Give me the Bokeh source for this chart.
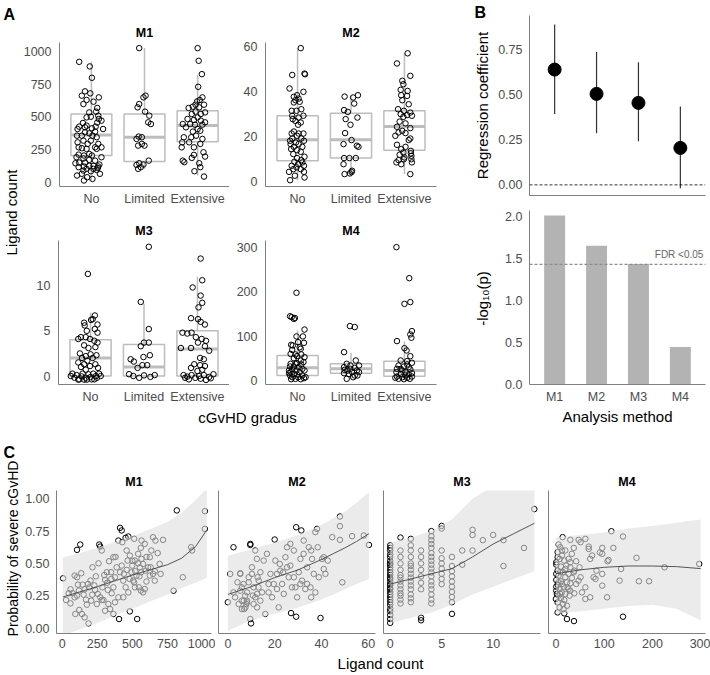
import math
from bokeh.plotting import figure
from bokeh.layouts import row, column
from bokeh.models import Range1d, FixedTicker, Label, Span, NumeralTickFormatter
from bokeh.embed import file_html
from bokeh.resources import INLINE

FONT = "Liberation Sans"
TICK_COL = "#4d4d4d"
AXIS_COL = "#7f7f7f"
BOX_COL = "#bdbdbd"

# ---------------- data ----------------
A_GROUPS = ["No", "Limited", "Extensive"]
METHODS = ["M1", "M2", "M3", "M4"]

# box statistics per group: (whisker low, q1, median, q3, whisker high)
A_M1_BOX = [(13, 204, 361, 522, 921), (102, 158, 344, 522, 1026), (51, 310, 433, 547, 822)]
A_M2_BOX = [(0.7, 9.3, 18.6, 29.3, 59.3), (3.7, 10.5, 18.6, 30.4, 38.1), (3.4, 14.0, 24.5, 31.5, 57.0)]
A_M3_BOX = [(0, 0, 2, 4, 7), (0, 0, 1, 3.5, 8), (0, 0, 3, 5, 11)]
A_M4_BOX = [(2, 11.3, 28.6, 56.5, 113), (4, 16.6, 26.4, 37.7, 62.5), (3, 9.8, 22.6, 43.7, 88.2)]

# jittered points: (horizontal jitter in group units, ligand count)
A_M1_NO = [(-0.23, 921), (-0.03, 886), (0.01, 799), (-0.12, 695), (-0.02, 680), (-0.18, 662), (0.14, 649),
           (-0.09, 629), (-0.15, 598), (0.04, 616), (0.11, 568), (-0.04, 534), (0.09, 540), (0.13, 509),
           (-0.09, 496), (-0.01, 501), (0.14, 484), (-0.16, 453), (0.11, 456), (-0.09, 433), (0.08, 425),
           (-0.23, 425), (-0.12, 420), (-0.26, 407), (0.01, 412), (0.07, 387), (-0.12, 382), (-0.04, 374),
           (-0.27, 356), (-0.18, 356), (0.02, 356), (0.10, 344), (-0.15, 318), (-0.26, 305), (-0.01, 318),
           (0.13, 293), (-0.07, 293), (0.07, 267), (-0.18, 260), (0.10, 255), (-0.24, 267), (-0.09, 255),
           (-0.04, 216), (-0.24, 211), (-0.14, 204), (-0.28, 191), (0.01, 204), (-0.15, 181), (-0.04, 171),
           (-0.23, 150), (-0.12, 150), (-0.30, 145), (0.07, 165), (-0.04, 125), (-0.14, 120), (0.04, 125),
           (0.13, 120), (-0.24, 115), (0.15, 135), (-0.09, 102), (-0.15, 89), (0.04, 102), (0.10, 94),
           (-0.01, 84), (0.12, 109), (-0.18, 64), (-0.27, 51), (-0.08, 38), (0.02, 25), (-0.14, 13),
           (0.19, 471), (0.22, 407), (0.19, 267), (0.19, 191), (0.16, 64)]
A_M1_LIM = [(-0.10, 1026), (0.02, 662), (-0.02, 649), (-0.10, 598), (-0.13, 573), (0.01, 540), (0.09, 509),
            (0.07, 458), (0.12, 445), (-0.11, 349), (-0.05, 344), (-0.15, 331), (-0.05, 293), (0.00, 280),
            (-0.12, 280), (0.08, 165), (-0.10, 145), (-0.15, 132), (-0.02, 135), (-0.07, 115), (-0.12, 102)]
A_M1_EXT = [(0.00, 1026), (0.02, 929), (0.08, 827), (0.01, 730), (0.09, 649), (-0.01, 618), (0.04, 629),
            (0.12, 593), (-0.04, 593), (-0.09, 578), (-0.17, 568), (0.03, 573), (0.14, 534), (-0.04, 540),
            (-0.11, 522), (0.06, 522), (0.00, 496), (-0.19, 484), (-0.07, 476), (0.06, 471), (0.14, 458),
            (-0.28, 445), (-0.14, 445), (-0.05, 440), (0.09, 440), (-0.22, 420), (0.00, 407), (-0.09, 387),
            (0.05, 394), (-0.03, 356), (-0.12, 344), (-0.26, 344), (0.09, 331), (-0.16, 305), (-0.29, 305),
            (0.05, 293), (-0.07, 267), (-0.30, 267), (0.11, 229), (0.14, 196), (-0.07, 209), (-0.11, 186),
            (-0.28, 165), (-0.25, 153), (0.03, 145), (0.05, 115), (-0.06, 84), (0.12, 43)]

A_M2_NO = [(0.06, 59.3), (-0.10, 47.4), (0.13, 48.0), (0.14, 47.7), (-0.15, 41.4), (0.11, 39.9), (-0.01, 38.4),
           (-0.07, 37.7), (0.02, 36.9), (-0.04, 36.2), (0.04, 35.5), (-0.07, 35.2), (-0.11, 31.5), (-0.02, 31.5),
           (0.07, 32.2), (-0.10, 29.3), (0.11, 29.3), (0.02, 28.5), (-0.09, 27.8), (-0.04, 27.0), (0.06, 26.3),
           (0.01, 25.3), (-0.07, 22.3), (-0.11, 21.4), (0.02, 21.4), (0.11, 21.4), (-0.01, 20.4), (-0.10, 19.2),
           (0.07, 19.2), (0.12, 18.2), (-0.14, 18.2), (-0.03, 17.4), (-0.13, 16.7), (0.02, 16.7), (-0.07, 15.5),
           (0.09, 15.5), (-0.12, 14.5), (-0.01, 14.0), (0.06, 13.3), (-0.08, 12.3), (0.13, 11.1), (-0.01, 10.5),
           (0.07, 9.6), (-0.06, 8.9), (0.09, 8.6), (0.01, 7.8), (-0.11, 7.1), (0.12, 7.1), (-0.02, 6.4),
           (0.06, 5.6), (-0.08, 5.6), (-0.16, 4.4), (0.12, 4.4), (-0.05, 2.7), (0.13, 1.9), (-0.14, 0.7)]
A_M2_LIM = [(-0.12, 37.8), (0.04, 37.4), (0.13, 38.4), (0.06, 34.7), (-0.13, 31.8), (-0.06, 31.0), (0.12, 28.5),
            (-0.10, 27.8), (-0.01, 25.3), (-0.11, 21.6), (0.01, 18.5), (-0.14, 16.7), (0.11, 16.0), (0.14, 15.5),
            (-0.13, 10.5), (-0.03, 10.5), (0.09, 10.5), (-0.14, 7.8), (0.02, 4.9), (-0.12, 3.4), (0.01, 4.3),
            (-0.02, 3.7)]
A_M2_EXT = [(0.06, 57.0), (-0.14, 52.5), (0.11, 47.0), (-0.04, 44.8), (-0.02, 43.3), (-0.07, 40.8), (0.06, 40.3),
            (-0.06, 38.4), (0.05, 38.1), (-0.04, 36.2), (0.08, 34.4), (-0.12, 32.2), (-0.01, 31.5), (0.11, 30.7),
            (-0.07, 30.0), (0.05, 29.6), (-0.02, 28.8), (0.14, 29.3), (-0.09, 26.7), (0.02, 25.9), (-0.14, 24.4),
            (0.11, 23.8), (-0.04, 22.6), (-0.11, 21.9), (0.02, 21.6), (-0.17, 20.4), (0.11, 19.2), (0.08, 18.5),
            (-0.14, 16.4), (0.02, 15.5), (-0.06, 14.5), (0.12, 13.7), (-0.02, 13.0), (0.12, 12.6), (-0.09, 12.0),
            (0.13, 11.5), (0.00, 10.8), (-0.01, 10.0), (0.13, 10.0), (-0.11, 9.6), (0.14, 8.6), (-0.15, 8.6),
            (-0.06, 7.8), (0.11, 3.4)]

A_M3_NO = [(-0.05, 11.3), (0.08, 6.7), (0.04, 6.3), (0.01, 6.2), (-0.12, 5.9), (-0.11, 5.6), (0.13, 5.7),
           (-0.07, 5.0), (0.08, 5.2), (0.13, 4.8), (-0.18, 4.3), (-0.09, 4.3), (-0.23, 4.1), (-0.01, 4.1),
           (0.07, 3.9), (0.13, 3.7), (-0.12, 3.4), (-0.04, 3.1), (0.09, 3.2), (-0.20, 2.5), (0.00, 2.4),
           (-0.09, 2.2), (0.11, 2.3), (-0.16, 2.0), (0.04, 2.0), (-0.06, 1.7), (-0.23, 1.5), (-0.12, 1.3),
           (0.09, 1.3), (-0.01, 1.1), (-0.18, 1.0), (0.14, 0.9), (-0.09, 0.7), (-0.34, 0.26), (-0.26, 0.1),
           (-0.17, -0.04), (-0.09, -0.19), (-0.04, 0.19), (0.02, -0.37), (0.10, 0.0), (0.16, 0.26), (-0.21, -0.37),
           (-0.30, -0.19), (-0.12, -0.4), (0.07, -0.37), (0.12, -0.19), (0.00, -0.11), (-0.37, 0.0), (0.19, 0.0),
           (-0.15, 0.26), (0.05, 0.26), (-0.23, -0.4), (-0.07, -0.4)]
A_M3_LIM = [(0.09, 14.3), (-0.06, 8.2), (0.09, 5.2), (0.00, 3.7), (0.09, 3.7), (-0.06, 3.3), (0.11, 2.3),
            (-0.01, 2.1), (-0.25, 1.85), (-0.19, 1.6), (-0.03, 1.2), (0.06, 1.2), (-0.12, 0.9), (-0.28, 0.2),
            (-0.20, 0.0), (-0.09, -0.2), (0.00, 0.07), (0.12, -0.1), (0.20, 0.1)]
A_M3_EXT = [(0.06, 13.0), (0.09, 10.6), (-0.09, 9.8), (0.06, 8.9), (0.09, 8.1), (0.02, 7.6), (-0.12, 6.4),
            (0.01, 6.3), (0.06, 6.0), (0.14, 5.7), (-0.11, 4.8), (-0.28, 4.8), (-0.19, 4.7), (-0.03, 4.3),
            (0.08, 4.1), (0.16, 3.9), (0.01, 3.7), (0.14, 3.3), (-0.12, 3.1), (-0.31, 3.1), (0.22, 2.8),
            (0.05, 2.0), (0.12, 1.85), (-0.06, 1.3), (0.05, 1.2), (0.14, 1.1), (-0.12, 0.9), (0.09, 0.7),
            (0.00, 0.55), (-0.26, 0.1), (-0.19, -0.07), (-0.11, 0.1), (-0.04, -0.2), (0.03, 0.0), (0.12, 0.1),
            (0.22, -0.1), (0.30, 0.2), (-0.16, -0.37), (0.06, -0.3), (0.16, -0.44), (-0.23, -0.2), (0.25, -0.26)]

A_M4_NO = [(-0.02, 198), (-0.14, 145), (-0.11, 143), (-0.07, 139), (-0.05, 141), (0.13, 115), (-0.02, 99.5),
           (0.10, 99.5), (0.01, 86.7), (0.12, 85), (-0.12, 80.6), (-0.09, 79), (0.04, 75), (-0.10, 69),
           (0.06, 71.6), (-0.13, 60), (-0.04, 58.8), (-0.01, 55), (0.07, 58.8), (0.13, 52.8), (-0.07, 50.5),
           (0.06, 45), (0.11, 41.5), (-0.13, 37.7), (-0.04, 37.7), (-0.14, 31.6), (0.02, 30), (0.09, 26.4),
           (-0.10, 24.9), (-0.02, 22.6), (0.13, 22.6), (-0.13, 18.8), (0.04, 18.8), (-0.07, 15), (-0.01, 13.6),
           (0.09, 11.3), (-0.14, 11.3), (-0.10, 7.5), (0.01, 7.5), (0.12, 5.3), (-0.04, 3.8), (0.06, 3),
           (0.15, 7.5), (-0.12, 3), (-0.16, 22.6), (-0.16, 16.6), (-0.07, 31.6), (0.07, 36.2), (-0.01, 39.2)]
A_M4_LIM = [(-0.02, 122.8), (0.07, 120.6), (-0.13, 64), (-0.08, 37.7), (0.09, 45.2), (0.15, 33.9), (-0.01, 33.9),
            (-0.13, 30.1), (0.07, 28.6), (-0.07, 22.6), (0.02, 18.8), (0.11, 22.6), (-0.13, 16.6), (-0.04, 15),
            (0.07, 11.3), (-0.08, 3.8), (0.04, 7.5), (0.12, 11.3), (-0.12, 24.1), (0.15, 18.8), (-0.01, 26.4)]
A_M4_EXT = [(-0.15, 301), (0.09, 231), (0.00, 173), (0.11, 177), (0.14, 111.5), (0.11, 104), (0.13, 96.5),
            (-0.14, 89), (0.00, 73), (0.04, 67.8), (0.11, 55), (-0.07, 45.2), (0.05, 43.7), (0.14, 40),
            (-0.11, 33.9), (-0.01, 31.6), (0.08, 30.1), (-0.14, 26.4), (-0.04, 22.6), (0.11, 24.9), (-0.15, 18.8),
            (0.02, 18.8), (-0.07, 15), (0.08, 13.6), (0.14, 16.6), (-0.14, 9), (-0.04, 7.5), (0.05, 6),
            (0.14, 9), (-0.11, 3.8), (-0.01, 3), (0.10, 3.8), (-0.17, 6), (0.02, 11.3), (-0.07, 26.4), (0.05, 36.2)]

# panel B
B_COEF = [0.64, 0.505, 0.455, 0.205]
B_CI_LO = [0.394, 0.287, 0.242, -0.019]
B_CI_HI = [0.89, 0.737, 0.681, 0.435]
B_NEGLOGP = [2.01, 1.65, 1.435, 0.447]
B_FDR = 1.43

# panel C: (ligand count, probability of severe cGvHD)
C_M1 = [(7, .385), (28, .217), (47, .269), (59, .191), (89, .406), (106, .393), (136, .424), (113, .336),
        (146, .336), (184, .341), (193, .315), (153, .258), (106, .251), (89, .238), (94, .109), (122, .14),
        (141, .109), (160, .083), (188, .036), (176, .181), (207, .212), (214, .258), (202, .367), (216, .47),
        (259, .501), (271, .63), (264, .646), (282, .6), (235, .295), (254, .264), (271, .238), (287, .315),
        (306, .372), (318, .432), (294, .217), (329, .186), (353, .269), (365, .315), (376, .393), (388, .47),
        (365, .548), (334, .517), (400, .677), (428, .664), (452, .698), (471, .708), (513, .69), (459, .6),
        (482, .561), (412, .432), (435, .367), (452, .315), (471, .276), (494, .432), (506, .367), (529, .406),
        (518, .522), (541, .574), (565, .535), (576, .496), (553, .47), (546, .315), (576, .276), (588, .302),
        (612, .47), (624, .548), (635, .6), (647, .703), (664, .677), (694, .496), (701, .419), (718, .682),
        (659, .367), (400, .238), (376, .199), (306, .134), (282, .217), (247, .186), (435, .238), (513, .354),
        (565, .677), (588, .651), (518, .315), (859, .393), (918, .625), (925, .6), (793, .289), (624, .406),
        (647, .419), (365, .109), (341, .147), (325, .295), (348, .432), (424, .483), (466, .522), (499, .483),
        (541, .501), (562, .432), (593, .444), (106, .605), (129, .646), (412, .775), (424, .755), (405, .07),
        (482, .129), (534, .07), (816, .91), (1016, .904), (1016, .767), (60, .3), (75, .27), (120, .29),
        (160, .3), (170, .22), (230, .33), (240, .4), (300, .41), (320, .35), (350, .38), (380, .55), (440, .42),
        (460, .45), (480, .38), (500, .52), (520, .44), (550, .4), (560, .62), (600, .55), (630, .47),
        (660, .44), (680, .58), (560, .29), (600, .36)]
C_M1_BAND_X = [5, 125, 250, 375, 500, 625, 750, 850, 950, 1030]
C_M1_FIT = [0.24, 0.28, 0.32, 0.365, 0.41, 0.45, 0.49, 0.54, 0.63, 0.76]
C_M1_LO = [-0.06, -0.01, 0.04, 0.095, 0.15, 0.205, 0.26, 0.31, 0.35, 0.39]
C_M1_HI = [0.545, 0.58, 0.62, 0.665, 0.71, 0.765, 0.82, 0.89, 0.99, 1.08]

C_M2 = [(0, .2), (1, .419), (2.4, .625), (3.1, .238), (4.1, .354), (5.3, .424), (6.0, .315), (6.8, .212),
        (7.5, .16), (8.2, .276), (8.9, .354), (9.6, .651), (9.6, .07), (9.9, .036), (10.3, .419), (10.7, .251),
        (11.7, .6), (12.4, .535), (13.1, .315), (12.7, .393), (11.0, .186), (8.2, .212), (4.6, .186), (6.0, .147),
        (2.4, .276), (5.3, .419), (6.7, .341), (7.4, .251), (8.2, .199), (9.6, .643), (10.3, .47), (11.0, .315),
        (11.7, .238), (12.5, .16), (13.2, .367), (13.9, .432), (14.6, .276), (15.3, .522), (16.0, .109),
        (16.7, .574), (17.4, .341), (18.2, .419), (18.9, .238), (20.0, .685), (20.3, .522), (21.0, .302),
        (21.7, .16), (22.4, .444), (23.2, .341), (23.9, .264), (24.6, .548), (25.3, .625), (26.0, .393),
        (26.7, .483), (27.0, .116), (27.4, .315), (28.2, .6), (29.2, .78), (29.2, .088), (29.6, .238),
        (30.3, .432), (31.0, .535), (31.4, .755), (31.7, .367), (32.4, .677), (33.1, .302), (33.9, .47),
        (34.6, .625), (35.3, .315), (36.0, .535), (36.7, .419), (37.4, .742), (38.1, .767), (38.9, .393),
        (39.6, .078), (40.3, .535), (41.0, .457), (41.7, .419), (44.6, .703), (47.9, .863), (47.9, .788),
        (47.9, .682), (48.9, .354), (53.1, .711), (58.1, .716), (60.3, .643), (5.3, .289), (6.0, .212),
        (7.0, .147), (7.9, .186), (8.9, .393), (12.5, .264), (13.9, .212), (17.4, .276), (19.6, .341),
        (21.0, .419), (22.2, .496), (23.6, .432), (25.3, .47), (28.2, .393), (28.9, .315), (31.0, .341),
        (33.9, .341), (35.6, .238), (37.4, .276), (41.0, .548), (42.7, .522), (38.4, .625), (35.6, .6),
        (32.4, .574), (26.7, .651)]
C_M2_BAND_X = [0, 10, 20, 30, 40, 45, 50, 55, 60.3]
C_M2_FIT = [0.26, 0.32, 0.39, 0.45, 0.53, 0.575, 0.62, 0.67, 0.73]
C_M2_LO = [-0.02, 0.06, 0.11, 0.16, 0.22, 0.26, 0.30, 0.34, 0.38]
C_M2_HI = [0.56, 0.61, 0.66, 0.72, 0.80, 0.85, 0.90, 0.97, 1.05]

C_M3 = [(0, .04), (0, .07), (0, .1), (0, .13), (0, .15), (0, .18), (0, .2), (0, .22), (0, .24), (0, .26),
        (0, .28), (0, .3), (0, .31), (0, .33), (0, .34), (0, .36), (0, .38), (0, .39), (0, .41), (0, .43),
        (0, .45), (0, .47), (0, .49), (0, .5), (0, .52), (0, .55), (0, .57), (0, .6), (0, .62), (0, .64),
        (1, .19), (1, .22), (1, .25), (1, .27), (1, .3), (1, .33), (1, .36), (1, .39), (1, .41), (1, .45),
        (1, .5), (1, .55), (1, .6), (1, .7),
        (2, .2), (2, .23), (2, .26), (2, .3), (2, .33), (2, .36), (2, .39), (2, .42), (2, .45), (2, .48),
        (2, .5), (2, .55), (2, .6), (2, .64), (2, .69),
        (3, .06), (3, .08), (3, .3), (3, .35), (3, .4), (3, .45), (3, .5), (3, .55), (3, .6),
        (4, .19), (4, .22), (4, .26), (4, .3), (4, .33), (4, .36), (4, .4), (4, .43), (4, .46), (4, .49),
        (4, .52), (4, .55), (4, .58), (4, .62), (4, .65), (4, .68), (4, .71), (4, .75),
        (5, .34), (5, .38), (5, .42), (5, .46), (5, .5), (5, .54), (5, .6), (5, .77), (5, .79),
        (6, .11), (6, .2), (6, .24), (6, .28), (6, .32), (6, .36), (6, .4), (6, .44), (6, .48), (6, .55),
        (7, .49), (7, .6), (8, .6), (8, .72), (8, .76), (9, .68), (10, .72), (11, .68), (11, .48), (13, .62),
        (14, .92)]
C_M3_BAND_X = [0, 2, 4, 6, 8, 10, 12, 14]
C_M3_FIT = [0.34, 0.38, 0.42, 0.46, 0.55, 0.65, 0.73, 0.81]
C_M3_LO = [0.04, 0.08, 0.12, 0.18, 0.26, 0.32, 0.38, 0.44]
C_M3_HI = [0.66, 0.70, 0.75, 0.84, 1.0, 1.1, 1.15, 1.2]

C_M4 = [(13.9, .703), (22.9, .07), (37.4, .054), (115, .749), (139, .088), (29.8, .682), (47, .682), (61, .69),
        (51, .664), (68, .63), (68, .612), (96, .62), (119, .62), (139, .708), (167, .543), (225, .47),
        (297, .496), (193, .362), (172, .362), (132, .367), (135, .457), (107, .517), (109, .527), (96, .328),
        (106, .238), (84, .444), (96, .419), (78, .393), (82, .38), (71, .535), (75, .561), (61, .315),
        (54, .276), (61, .225), (47, .367), (51, .393), (49, .47), (38, .444), (42, .517), (33, .574),
        (37, .62), (71, .238), (96, .574), (91, .584), (5.5, .646), (9, .625), (3.5, .587), (12.5, .561),
        (7.6, .535), (17.3, .522), (0.7, .491), (10.4, .475), (21.5, .483), (3.5, .444), (14.6, .432),
        (26.3, .419), (5.5, .406), (19.4, .393), (0.7, .372), (10.4, .362), (22.9, .354), (29.8, .346),
        (3.5, .336), (15.9, .32), (7.6, .302), (26.3, .302), (0.7, .289), (12.5, .276), (19.4, .264),
        (5.5, .251), (28.4, .251), (10.4, .233), (17.3, .217), (3.5, .199), (14.6, .186), (22.9, .173),
        (7.6, .16), (15.9, .147), (3.5, .121), (17.3, .114), (0, .225), (9, .432), (19.4, .457), (29.8, .47),
        (37, .432), (33, .388), (42, .341), (29.8, .289), (38, .269), (0.7, .419), (5.5, .354), (12.5, .341),
        (0.7, .32), (2, .264), (9, .264), (24, .315), (3.5, .548), (12.5, .6), (19.4, .6), (26.3, .535),
        (29.8, .509), (0.7, .509)]
C_M4_BAND_X = [0, 50, 100, 150, 200, 250, 300]
C_M4_FIT = [0.42, 0.45, 0.47, 0.48, 0.48, 0.475, 0.46]
C_M4_LO = [0.11, 0.13, 0.15, 0.17, 0.18, 0.15, 0.06]
C_M4_HI = [0.70, 0.72, 0.74, 0.77, 0.79, 0.815, 0.84]


# ---------------- helpers ----------------
def base_fig(w, h, xr, yr, mb):
    l, r, t, b = mb
    p = figure(width=w, height=h, x_range=Range1d(*xr), y_range=Range1d(*yr),
               output_backend="svg", toolbar_location=None,
               min_border_left=l, min_border_right=r, min_border_top=t, min_border_bottom=b)
    p.grid.visible = False
    p.outline_line_color = None
    for ax in p.axis:
        ax.axis_line_color = AXIS_COL
        ax.axis_line_width = 1
        ax.major_tick_line_color = None
        ax.minor_tick_line_color = None
        ax.major_tick_out = 0
        ax.major_tick_in = 0
        ax.minor_tick_out = 0
        ax.minor_tick_in = 0
        ax.major_label_text_font = FONT
        ax.major_label_text_font_size = "12.5px"
        ax.major_label_text_color = TICK_COL
    return p


def set_title(p, text, standoff):
    p.title.text = text
    p.title.align = "center"
    p.title.text_font = FONT
    p.title.text_font_size = "12.5px"
    p.title.text_font_style = "bold"
    p.title.text_color = "black"
    p.title.standoff = standoff


def hide_axis(ax):
    ax.ticker = FixedTicker(ticks=[])
    ax.major_label_standoff = 0


def text_fig(w, h, mb=(0, 0)):
    p = figure(width=w, height=h, x_range=Range1d(0, 1), y_range=Range1d(0, 1),
               output_backend="svg", toolbar_location=None, min_border=0,
               min_border_left=mb[0], min_border_right=mb[1],
               x_axis_location=None, y_axis_location=None)
    p.grid.visible = False
    p.outline_line_color = None
    return p


def add_text(p, x, y, text, size="15px", bold=False, angle=0.0, align="center", baseline="middle", color="black"):
    p.add_layout(Label(x=x, y=y, x_units="screen", y_units="screen", text=text, angle=angle,
                       text_font=FONT, text_font_size=size, text_font_style="bold" if bold else "normal",
                       text_align=align, text_baseline=baseline, text_color=color))


def box_panel(w, h, mb, yr, yticks, title, box, groups, tstand):
    p = base_fig(w, h, (0.4, 3.6), yr, mb)
    set_title(p, title, tstand)
    xs = list(range(1, len(A_GROUPS) + 1))
    p.xaxis.ticker = FixedTicker(ticks=xs)
    p.xaxis.major_label_overrides = {x: g for x, g in zip(xs, A_GROUPS)}
    p.xaxis.major_label_standoff = 5
    p.yaxis.ticker = FixedTicker(ticks=yticks)
    p.yaxis.major_label_standoff = 8
    lo = [b[0] for b in box]
    q1 = [b[1] for b in box]
    med = [b[2] for b in box]
    q3 = [b[3] for b in box]
    hi = [b[4] for b in box]
    p.segment(x0=xs, y0=lo, x1=xs, y1=q1, line_color=BOX_COL, line_width=1.5)
    p.segment(x0=xs, y0=q3, x1=xs, y1=hi, line_color=BOX_COL, line_width=1.5)
    p.vbar(x=xs, width=0.77, bottom=q1, top=q3, fill_color="white", line_color=BOX_COL, line_width=1.5)
    p.segment(x0=[x - 0.385 for x in xs], y0=med, x1=[x + 0.385 for x in xs], y1=med,
              line_color=BOX_COL, line_width=3)
    for gx, pts in zip(xs, groups):
        px = [gx + j for j, v in pts]
        py = [v for j, v in pts]
        p.scatter(px, py, marker="circle", size=5.5, fill_color=None, line_color="black", line_width=1)
    return p


def scatter_panel(w, h, mb, xr, xticks, title, pts, bx, fit, lo, hi, show_y):
    p = base_fig(w, h, xr, (-0.042, 1.064), mb)
    set_title(p, title, 4)
    p.xaxis.ticker = FixedTicker(ticks=xticks)
    p.xaxis.major_label_standoff = 5
    if show_y:
        p.yaxis.ticker = FixedTicker(ticks=[0, 0.25, 0.5, 0.75, 1.0])
        p.yaxis.formatter = NumeralTickFormatter(format="0.00")
        p.yaxis.major_label_standoff = 7
    else:
        hide_axis(p.yaxis[0])
    p.scatter([a for a, b in pts], [b for a, b in pts], marker="circle", size=5.5,
              fill_color=None, line_color="black", line_width=1)
    p.varea(x=bx, y1=lo, y2=hi, fill_color="#dddddd", fill_alpha=0.6)
    p.line(bx, fit, line_color="#444444", line_width=0.9)
    return p


# ---------------- panel A ----------------
a1 = box_panel(209, 208, (38, 0, 42, 22), (-33, 1069), [0, 250, 500, 750, 1000], "M1", A_M1_BOX,
               [A_M1_NO, A_M1_LIM, A_M1_EXT], 6)
a2 = box_panel(239, 208, (36, 32, 42, 22), (-2.1, 61.8), [0, 20, 40, 60], "M2", A_M2_BOX,
               [A_M2_NO, A_M2_LIM, A_M2_EXT], 6)
a3 = box_panel(209, 198, (38, 0, 32, 21), (-0.94, 15.0), [0, 5, 10], "M3", A_M3_BOX,
               [A_M3_NO, A_M3_LIM, A_M3_EXT], 6)
a4 = box_panel(239, 198, (36, 32, 32, 21), (-9, 316), [0, 100, 200, 300], "M4", A_M4_BOX,
               [A_M4_NO, A_M4_LIM, A_M4_EXT], 6)

labA = text_fig(20, 406)
add_text(labA, 3, 401, "A", size="16px", bold=True, align="left", baseline="top")
add_text(labA, 11, 194, "Ligand count", angle=math.pi / 2)

xlabA = text_fig(468, 20)
add_text(xlabA, 247, 9, "cGvHD gradus")

colA = column(row(labA, column(row(a1, a2), row(a3, a4))), xlabA)

# ---------------- panel B ----------------
xs_b = list(range(1, len(METHODS) + 1))
b1 = base_fig(216, 200, (0.4, 4.6), (-0.059, 0.94), (35, 5, 15, 5))
hide_axis(b1.xaxis[0])
b1.yaxis.ticker = FixedTicker(ticks=[0, 0.25, 0.5, 0.75])
b1.yaxis.formatter = NumeralTickFormatter(format="0.00")
b1.yaxis.major_label_standoff = 7
b1.add_layout(Span(location=0, dimension="width", line_color="black", line_dash="3 2", line_width=0.8))
b1.segment(x0=xs_b, y0=B_CI_LO, x1=xs_b, y1=B_CI_HI, line_color="#333333", line_width=1.2)
b1.scatter(xs_b, B_COEF, marker="circle", size=13, fill_color="black", line_color="black")

b2 = base_fig(216, 206, (0.4, 4.6), (0, 2.07), (35, 5, 10, 21))
b2.xaxis.ticker = FixedTicker(ticks=xs_b)
b2.xaxis.major_label_overrides = {x: m for x, m in zip(xs_b, METHODS)}
b2.xaxis.major_label_standoff = 5
b2.yaxis.ticker = FixedTicker(ticks=[0, 0.5, 1.0, 1.5, 2.0])
b2.yaxis.formatter = NumeralTickFormatter(format="0.0")
b2.yaxis.major_label_standoff = 7
b2.vbar(x=xs_b, top=B_NEGLOGP, width=0.5, bottom=0, fill_color="#b3b3b3", line_color=None)
b2.add_layout(Span(location=B_FDR, dimension="width", line_color="#8c8c8c", line_dash="3 2", line_width=1.2))
b2.add_layout(Label(x=4.55, y=B_FDR, y_offset=4, text="FDR <0.05", text_align="right", text_baseline="bottom",
                    text_font=FONT, text_font_size="10px", text_color="#666666"))

labB = text_fig(26, 426)
add_text(labB, 6, 423, "B", size="16px", bold=True, align="left", baseline="top")
add_text(labB, 14, 321, "Regression coefficient", angle=math.pi / 2)
add_text(labB, 14, 128, "-log₁₀(p)", angle=math.pi / 2)

# same side borders as b1/b2, so its frame lines up with theirs
xlabB = text_fig(216, 20, (35, 5))
add_text(xlabB, 88, 10, "Analysis method")

colB = row(labB, column(b1, b2, xlabB))

top = row(colA, colB)

# ---------------- panel C ----------------
c1 = scatter_panel(193, 228, (32, 4, 64, 21), (-40, 1063), [0, 250, 500, 750, 1000], "M1", C_M1,
                   C_M1_BAND_X, C_M1_FIT, C_M1_LO, C_M1_HI, True)
c2 = scatter_panel(164, 228, (3, 4, 64, 21), (-4, 63.1), [0, 20, 40, 60], "M2", C_M2,
                   C_M2_BAND_X, C_M2_FIT, C_M2_LO, C_M2_HI, False)
c3 = scatter_panel(165, 228, (4, 4, 64, 21), (-0.65, 14.6), [0, 5, 10], "M3", C_M3,
                   C_M3_BAND_X, C_M3_FIT, C_M3_LO, C_M3_HI, False)
c4 = scatter_panel(166, 228, (4, 5, 64, 21), (-15.4, 310), [0, 100, 200, 300], "M4", C_M4,
                   C_M4_BAND_X, C_M4_FIT, C_M4_LO, C_M4_HI, False)

labC = text_fig(22, 246)
add_text(labC, 3, 229, "C", size="16px", bold=True, align="left", baseline="top")
add_text(labC, 12, 124, "Probability of severe cGvHD", size="14px", angle=math.pi / 2)

xlabC = text_fig(688, 18)
add_text(xlabC, 358, 9, "Ligand count")

bottom = row(labC, column(row(c1, c2, c3, c4), xlabC))

page = column(top, bottom)

with open("out.html", "w") as f:
    f.write(file_html(page, INLINE))
